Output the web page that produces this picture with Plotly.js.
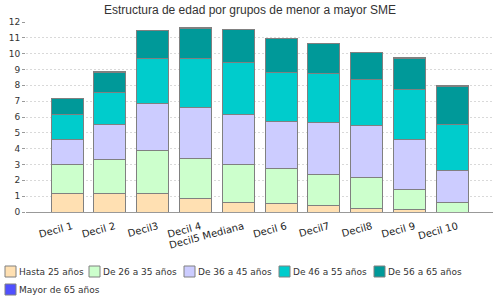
<!DOCTYPE html>
<html>
<head>
<meta charset="utf-8">
<script src="https://cdn.plot.ly/plotly-3.0.1.min.js"></script>
<style>html,body{margin:0;padding:0;background:#fff;}#chart{width:500px;height:300px;}</style>
</head>
<body>
<div id="chart"></div>
<script>
// Data
const categories = ["Decil 1", "Decil 2", "Decil3", "Decil 4", "Decil5 Mediana", "Decil 6", "Decil7", "Decil8", "Decil 9", "Decil 10"];
const seriesNames = ["Hasta 25 años", "De 26 a 35 años", "De 36 a 45 años", "De 46 a 55 años", "De 56 a 65 años", "Mayor de 65 años"];
const hasta25 = [1.16, 1.16, 1.20, 0.88, 0.63, 0.51, 0.38, 0.25, 0.13, 0];
const de26a35 = [1.81, 2.13, 2.66, 2.47, 2.34, 2.21, 2.02, 1.90, 1.32, 0.57];
const de36a45 = [1.64, 2.21, 2.97, 3.22, 3.16, 2.97, 3.23, 3.29, 3.10, 2.02];
const de46a55 = [1.52, 2.04, 2.88, 3.10, 3.29, 3.10, 3.09, 2.90, 3.16, 2.91];
const de56a65 = [1.01, 1.29, 1.77, 1.94, 2.08, 2.15, 1.90, 1.71, 2.00, 2.40];
const mayor65 = [0, 0.06, 0, 0.06, 0, 0, 0, 0.05, 0.06, 0.11];

const seriesValues = [hasta25, de26a35, de36a45, de46a55, de56a65, mayor65];
const colors = ["#FFE0B2", "#CCFFCC", "#CCCCFF", "#00CCCC", "#009999", "#5050FF"];

const traces = seriesValues.map((vals, i) => ({
  type: "bar",
  name: seriesNames[i],
  x: categories,
  y: vals,
  marker: {color: colors[i], line: {color: "#808080", width: 1}},
  showlegend: false,
  hoverinfo: "x+y+name"
}));

// Manual legend (compact swatches like the reference)
const W = 500, H = 300;
const m = {l: 26, r: 7, t: 22, b: 88};
const pw = W - m.l - m.r, ph = H - m.t - m.b;
const px2x = p => (p - m.l) / pw;
const px2y = p => (H - m.b - p) / ph;
const legendPos = [[5, 271.5], [89, 271.5], [184, 271.5], [279, 271.5], [374, 271.5], [5, 289.5]];
const shapes = [];
const annotations = [];
seriesNames.forEach((name, i) => {
  const [sx, cy] = legendPos[i];
  shapes.push({
    type: "rect", xref: "paper", yref: "paper",
    x0: px2x(sx), x1: px2x(sx + 11), y0: px2y(cy + 5.5), y1: px2y(cy - 5.5),
    fillcolor: colors[i], line: {color: "#808080", width: 1}
  });
  annotations.push({
    xref: "paper", yref: "paper", x: px2x(sx + 12), y: px2y(cy),
    xanchor: "left", yanchor: "middle", showarrow: false,
    text: name, font: {family: "DejaVu Sans", size: 9, color: "#333"}
  });
});

const layout = {
  width: W, height: H,
  margin: m,
  barmode: "stack",
  bargap: 0.25,
  paper_bgcolor: "#fff", plot_bgcolor: "#fff",
  title: {
    text: "Estructura de edad por grupos de menor a mayor SME",
    font: {family: "Liberation Sans", size: 12, color: "#333"},
    x: 0.5, xref: "container", y: 1 - 10 / H, yref: "container", yanchor: "middle"
  },
  xaxis: {
    type: "category",
    range: [-0.96, 9.95],
    tickangle: -15,
    ticklabelstandoff: 4,
    ticklabelshift: 5,
    tickfont: {family: "DejaVu Sans", size: 10, color: "#222"},
    showline: true, linecolor: "#999", linewidth: 1,
    showgrid: false, ticks: "", zeroline: false
  },
  yaxis: {
    range: [0, 12], dtick: 1, tick0: 0,
    tickfont: {family: "DejaVu Sans", size: 9, color: "#333"},
    showgrid: true, gridcolor: "#d9d9d9", griddash: "2px,2px", gridwidth: 1,
    ticks: "outside", ticklen: 3, tickcolor: "#999",
    showline: false, zeroline: false
  },
  shapes: shapes,
  annotations: annotations,
  showlegend: false
};

Plotly.newPlot("chart", traces, layout, {displayModeBar: false, staticPlot: true});
</script>
</body>
</html>
